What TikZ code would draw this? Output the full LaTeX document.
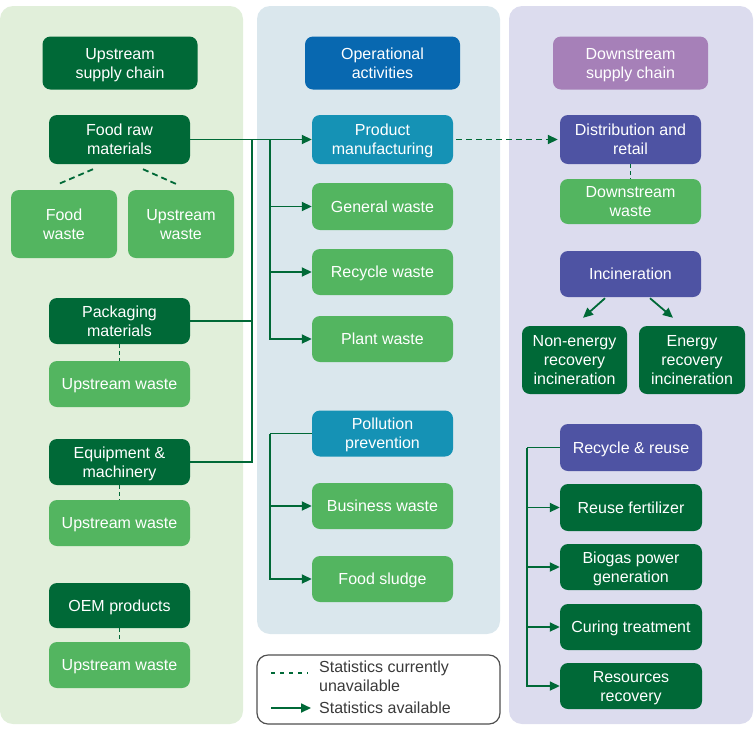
\documentclass[tikz,border=0pt]{standalone}
\usepackage{fontspec}
\setmainfont{Liberation Sans}
\usetikzlibrary{arrows.meta,calc}
\definecolor{cDkG}{HTML}{006937}
\definecolor{cLtG}{HTML}{53B560}
\definecolor{cTeal}{HTML}{1592B5}
\definecolor{cBlue}{HTML}{0868B0}
\definecolor{cPur}{HTML}{4E53A3}
\definecolor{cLPur}{HTML}{A680B8}
\definecolor{bgL}{HTML}{E1EFDA}
\definecolor{bgM}{HTML}{DAE7ED}
\definecolor{bgR}{HTML}{DCDCEE}
\definecolor{cLine}{HTML}{006937}
\definecolor{cTxt}{HTML}{3A3A3A}
\definecolor{cLeg}{HTML}{505050}
\begin{document}
\begin{tikzpicture}[x=1pt,y=-1pt,
  box/.style={rounded corners=8pt, text=white, align=center, inner sep=0pt,
    text depth=0pt, font=\fontsize{16}{19}\selectfont},
  wide/.style={box, minimum width=141pt},
  hdr/.style={box, minimum width=155pt, minimum height=53pt},
  link/.style={draw=cLine, line width=1.8pt},
  arr/.style={link, -{Triangle[length=10pt,width=9pt]}},
  dsh/.style={link, dash pattern=on 6pt off 4pt},
  vdsh/.style={draw=cLine, line width=1.6pt, dash pattern=on 4pt off 3pt},
  legtxt/.style={anchor=west, inner sep=0pt, align=left, text=cTxt,
    font=\fontsize{16}{19}\selectfont}]
\useasboundingbox (0,0) rectangle (754,729);
% panels
\fill[bgL, rounded corners=13pt] (0,6) rectangle (243,724);
\fill[bgM, rounded corners=13pt] (257,6) rectangle (500,634);
\fill[bgR, rounded corners=13pt] (509,6) rectangle (753,724);
% headers
\node[hdr, fill=cDkG] (hU) at (120,63) {Upstream\\supply chain};
\node[hdr, fill=cBlue] (hO) at (382.5,63) {Operational\\activities};
\node[hdr, fill=cLPur] (hD) at (630.5,63) {Downstream\\supply chain};
% left column
\node[wide, fill=cDkG, minimum height=49pt] (frm) at (119.5,139.5) {Food raw\\materials};
\node[box, fill=cLtG, minimum width=106pt, minimum height=68pt] (fw) at (64,224) {Food\\waste};
\node[box, fill=cLtG, minimum width=106pt, minimum height=68pt] (uw1) at (181,224) {Upstream\\waste};
\node[wide, fill=cDkG, minimum height=46pt] (pkg) at (119.5,321) {Packaging\\materials};
\node[wide, fill=cLtG, minimum height=46pt] (uw2) at (119.5,384) {Upstream waste};
\node[wide, fill=cDkG, minimum height=46pt] (eqp) at (119.5,462) {Equipment \&\\machinery};
\node[wide, fill=cLtG, minimum height=46pt] (uw3) at (119.5,523) {Upstream waste};
\node[wide, fill=cDkG, minimum height=45pt] (oem) at (119.5,605.5) {OEM products};
\node[wide, fill=cLtG, minimum height=46pt] (uw4) at (119.5,665) {Upstream waste};
% middle column
\node[wide, fill=cTeal, minimum height=49pt] (pm) at (382.5,139.5) {Product\\manufacturing};
\node[wide, fill=cLtG, minimum height=47pt] (gw) at (382.5,206.5) {General waste};
\node[wide, fill=cLtG, minimum height=46pt] (rw) at (382.5,272) {Recycle waste};
\node[wide, fill=cLtG, minimum height=46pt] (pw) at (382.5,339) {Plant waste};
\node[wide, fill=cTeal, minimum height=46pt] (pp) at (382.5,433.5) {Pollution\\prevention};
\node[wide, fill=cLtG, minimum height=46pt] (bw) at (382.5,506) {Business waste};
\node[wide, fill=cLtG, minimum height=46pt] (fs) at (382.5,579) {Food sludge};
% right column
\node[wide, fill=cPur, minimum height=49pt] (dr) at (630.5,139.5) {Distribution and\\retail};
\node[wide, fill=cLtG, minimum height=45pt] (dw) at (630.5,201.5) {Downstream\\waste};
\node[wide, fill=cPur, minimum height=46pt] (inc) at (630.5,274) {Incineration};
\node[box, fill=cDkG, minimum width=105pt, minimum height=68pt] (ne) at (574.5,360) {Non-energy\\recovery\\incineration};
\node[box, fill=cDkG, minimum width=106pt, minimum height=68pt] (er) at (692,360) {Energy\\recovery\\incineration};
\node[box, fill=cPur, minimum width=142pt, minimum height=47pt] (rr) at (631,447.5) {Recycle \& reuse};
\node[box, fill=cDkG, minimum width=142pt, minimum height=47pt] (rf) at (631,507.5) {Reuse fertilizer};
\node[box, fill=cDkG, minimum width=142pt, minimum height=46pt] (bg) at (631,567) {Biogas power\\generation};
\node[box, fill=cDkG, minimum width=142pt, minimum height=46pt] (ct) at (631,627) {Curing treatment};
\node[box, fill=cDkG, minimum width=142pt, minimum height=46pt] (rsr) at (631,686) {Resources\\recovery};
% junctions
\coordinate (j1) at (252,139.5);
\coordinate (j2) at (270,139.5);
\coordinate (j3) at (270,433.5);
\coordinate (j4) at (527,447.5);
% solid connectors
\draw[arr] (frm.east) -- (pm.west);
\draw[link] (pkg.east) -| (j1);
\draw[link] (eqp.east) -| (j1);
\draw[arr] (j2) |- (gw.west);
\draw[arr] (j2) |- (rw.west);
\draw[arr] (j2) |- (pw.west);
\draw[link] (pp.west) -- (j3);
\draw[arr] (j3) |- (bw.west);
\draw[arr] (j3) |- (fs.west);
\draw[link] (rr.west) -- (j4);
\draw[arr] (j4) |- (rf.west);
\draw[arr] (j4) |- (bg.west);
\draw[arr] (j4) |- (ct.west);
\draw[arr] (j4) |- (rsr.west);
\draw[arr] ($(inc.south)+(-25.5,1)$) -- ($(ne.north)+(8.5,-8)$);
\draw[arr] ($(inc.south)+(19.5,1)$) -- ($(er.north)+(-19,-8)$);
% dashed connectors
\draw[dsh, -{Triangle[length=10pt,width=9pt]}, shorten <=3pt, shorten >=2pt] (pm.east) -- (dr.west);
\draw[dsh] ($(frm.south)+(-26.5,5)$) -- ($(fw.north)+(-5,-6)$);
\draw[dsh] ($(frm.south)+(23.5,5)$) -- ($(uw1.north)+(-3,-5)$);
\draw[vdsh] (pkg.south) -- (uw2.north);
\draw[vdsh] (eqp.south) -- (uw3.north);
\draw[vdsh] (oem.south) -- (uw4.north);
\draw[vdsh] (dr.south) -- (dw.north);
% legend
\node[draw=cLeg, fill=white, line width=1.2pt, rounded corners=11pt,
  minimum width=243pt, minimum height=69pt] (leg) at (378.5,689.5) {};
\coordinate (l1a) at (271,673);
\coordinate (l1b) at (308,673);
\coordinate (l2a) at (271,708);
\coordinate (l2b) at (311,708);
\draw[link, dash pattern=on 4pt off 5pt] (l1a) -- (l1b);
\draw[arr] (l2a) -- (l2b);
\node[legtxt] (lt1) at (319,676.5) {Statistics currently\\unavailable};
\node[legtxt] (lt2) at (319,708) {Statistics available};
\end{tikzpicture}
\end{document}
